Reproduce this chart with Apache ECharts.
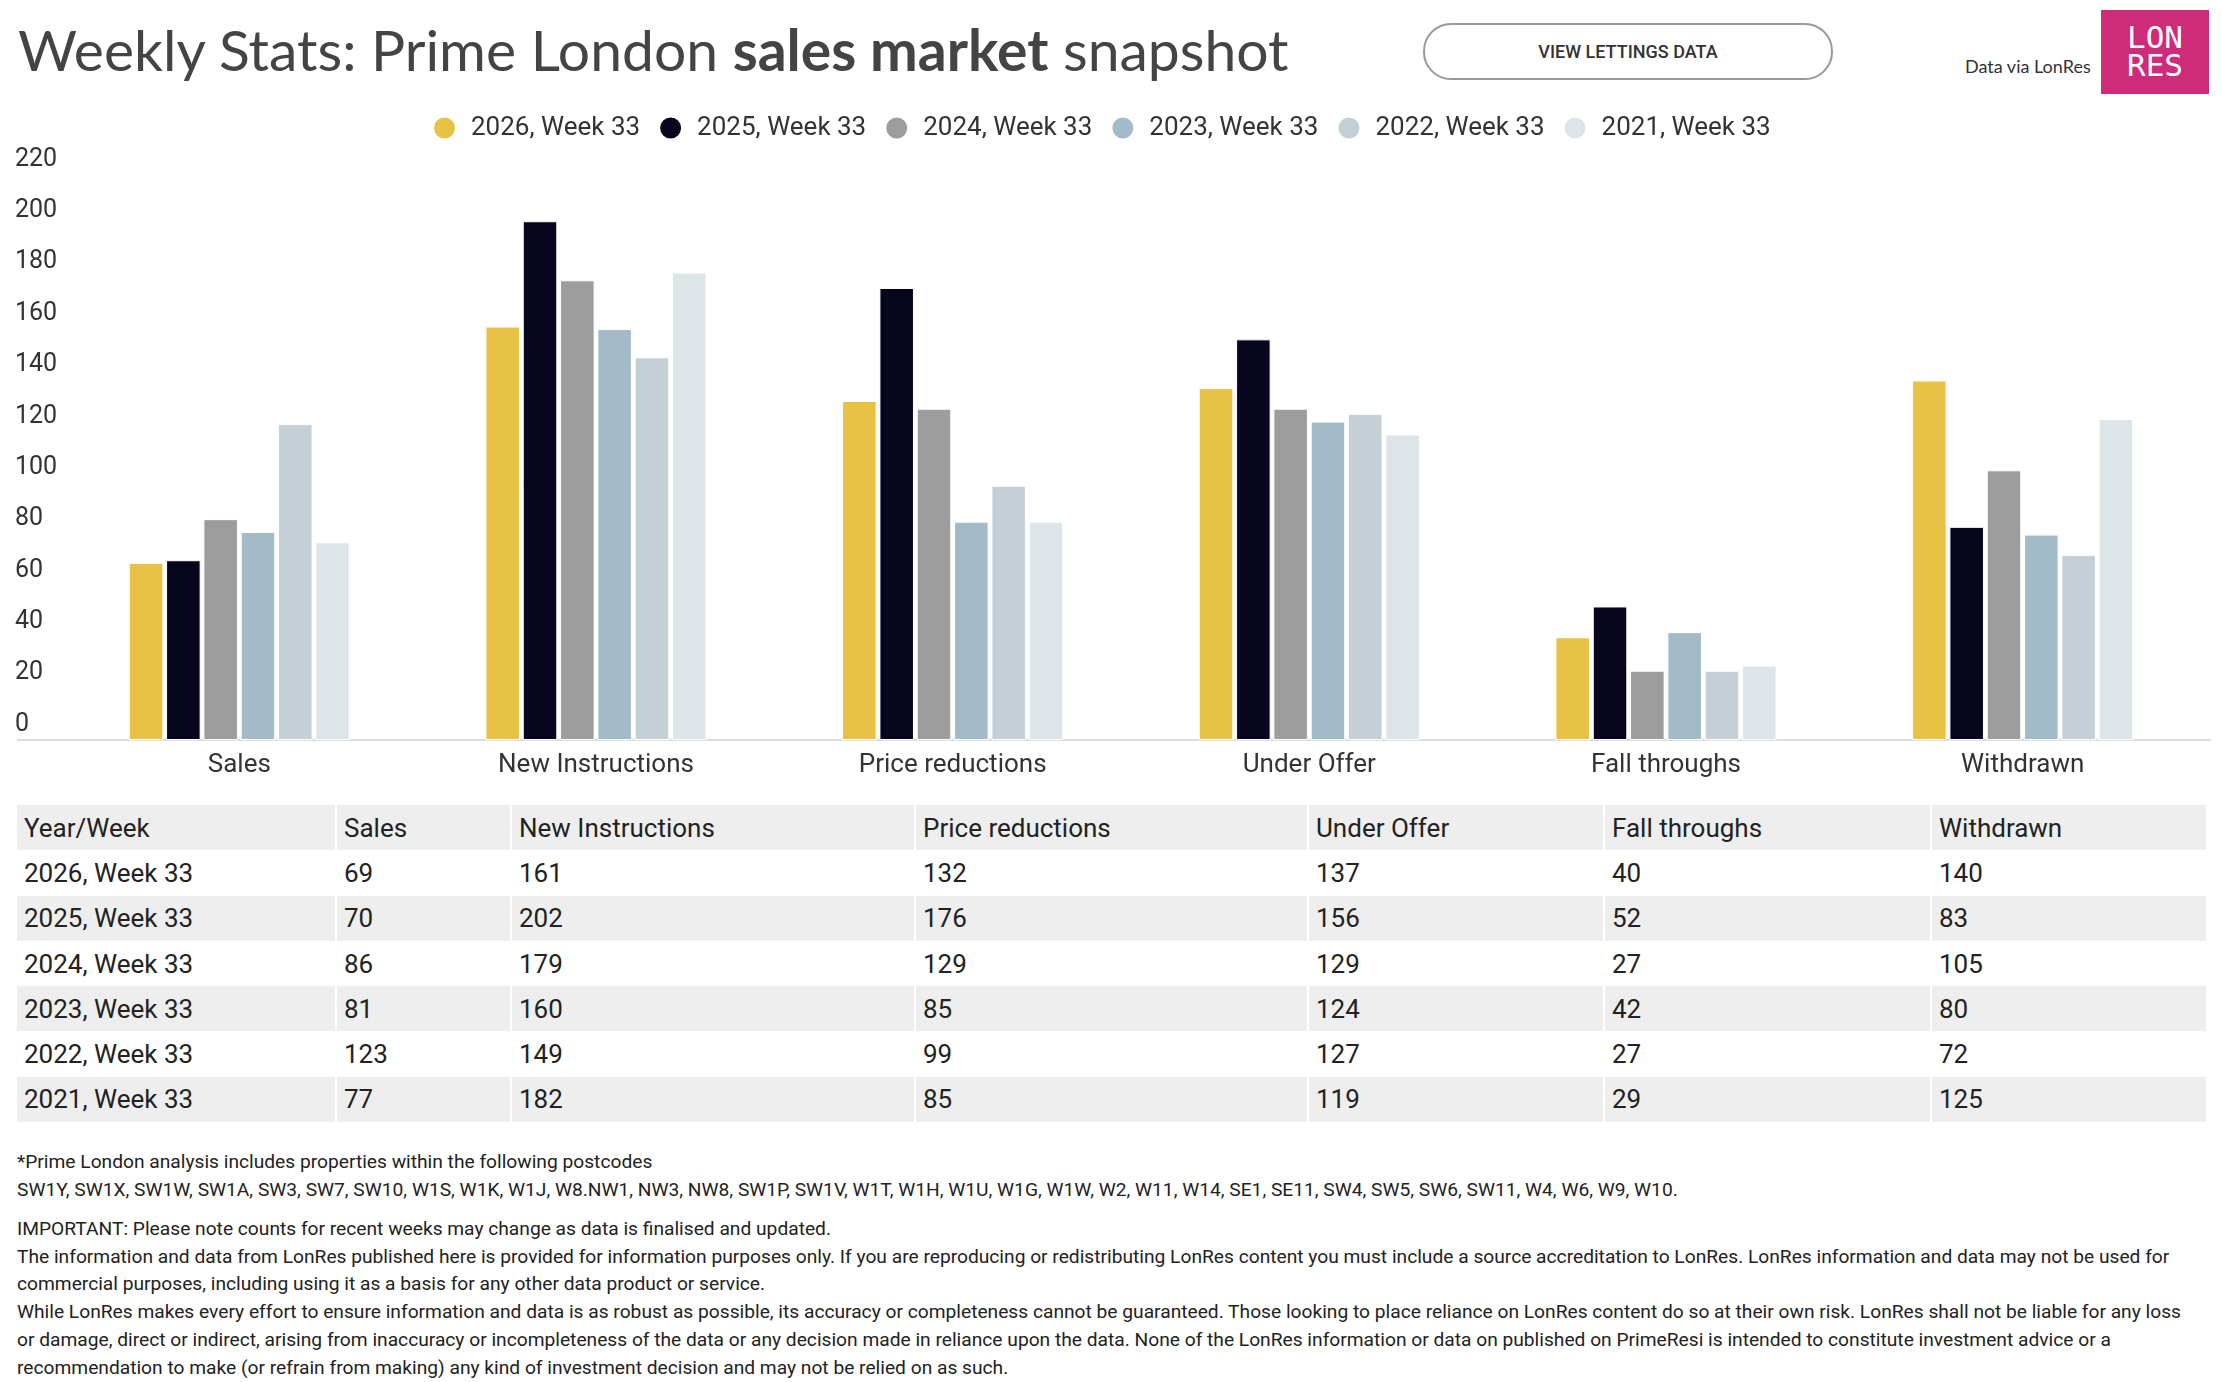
<!DOCTYPE html>
<html>
<head>
<meta charset="utf-8">
<script src="https://cdn.jsdelivr.net/npm/echarts@6/dist/echarts.min.js"></script>
<style>
  html, body { margin: 0; padding: 0; background: #fff; }
  body { width: 2222px; height: 1382px; position: relative; overflow: hidden; font-family: Roboto, "Noto Sans", sans-serif; color: #333; }
  #charts { position: absolute; left: 0; top: 0; width: 2222px; height: 800px; }
  .title { position: absolute; left: 18px; top: 21px; font-family: Lato, sans-serif; font-size: 57px; line-height: 57px; color: #444; white-space: nowrap; }
  .title b { font-weight: 700; }
  .btn { position: absolute; left: 1423px; top: 23px; width: 406px; height: 53px; border: 2.5px solid #999; border-radius: 28px;
         font-size: 18px; font-weight: 500; color: #333; text-align: center; line-height: 53px; }
  .via { position: absolute; left: 1965px; top: 55px; font-family: Lato, sans-serif; font-size: 18px; color: #333; white-space: nowrap; }
  .logo { position: absolute; left: 2101px; top: 10px; width: 108px; height: 84px; background: #cf2b7b; color: #fff;
          font-family: "DejaVu Sans Mono", monospace; font-size: 31px; line-height: 28px; text-align: center; padding-top: 13px; box-sizing: border-box; }
  table { position: absolute; left: 17px; top: 805px; border-collapse: collapse; table-layout: fixed; font-size: 26px; color: #222; }
  td { height: 45.3px; padding: 0 0 0 7px; border-right: 2px solid #fff; white-space: nowrap; }
  tr.g td { background: #eeeeee; }
  .notes { position: absolute; left: 17px; top: 1148px; font-size: 19.2px; color: #222; white-space: nowrap; }
  .notes .p1 { line-height: 28px; }
  .notes .p2 { line-height: 27.7px; margin-top: 11px; }
</style>
</head>
<body>
<div class="title">Weekly Stats: Prime London <b>sales market</b> snapshot</div>
<div class="btn">VIEW LETTINGS DATA</div>
<div class="via">Data via LonRes</div>
<div class="logo">LON<br>RES</div>
<div id="charts"></div>
<table id="tbl"></table>
<div class="notes">
  <div class="p1">*Prime London analysis includes properties within the following postcodes<br>SW1Y, SW1X, SW1W, SW1A, SW3, SW7, SW10, W1S, W1K, W1J, W8.NW1, NW3, NW8, SW1P, SW1V, W1T, W1H, W1U, W1G, W1W, W2, W11, W14, SE1, SE11, SW4, SW5, SW6, SW11, W4, W6, W9, W10.</div>
  <div class="p2">IMPORTANT: Please note counts for recent weeks may change as data is finalised and updated.<br>The information and data from LonRes published here is provided for information purposes only. If you are reproducing or redistributing LonRes content you must include a source accreditation to LonRes. LonRes information and data may not be used for<br>commercial purposes, including using it as a basis for any other data product or service.<br>While LonRes makes every effort to ensure information and data is as robust as possible, its accuracy or completeness cannot be guaranteed. Those looking to place reliance on LonRes content do so at their own risk. LonRes shall not be liable for any loss<br>or damage, direct or indirect, arising from inaccuracy or incompleteness of the data or any decision made in reliance upon the data. None of the LonRes information or data on published on PrimeResi is intended to constitute investment advice or a<br>recommendation to make (or refrain from making) any kind of investment decision and may not be relied on as such.</div>
</div>
<script>
// categories and series
var categories = ['Sales', 'New Instructions', 'Price reductions', 'Under Offer', 'Fall throughs', 'Withdrawn'];
var weeks = ['2026, Week 33', '2025, Week 33', '2024, Week 33', '2023, Week 33', '2022, Week 33', '2021, Week 33'];
var w2026 = [69, 161, 132, 137, 40, 140];
var w2025 = [70, 202, 176, 156, 52, 83];
var w2024 = [86, 179, 129, 129, 27, 105];
var w2023 = [81, 160, 85, 124, 42, 80];
var w2022 = [123, 149, 99, 127, 27, 72];
var w2021 = [77, 182, 85, 119, 29, 125];
var colors = ['#e8c244', '#08061e', '#9d9d9d', '#a3bac9', '#c5cfd6', '#dee5e9'];
var yMin = 0, yMax = 220, yStep = 20;

var allData = [w2026, w2025, w2024, w2023, w2022, w2021];

// table from the same arrays
var colW = [319, 175, 404, 393, 296, 327, 276];
var html = '<colgroup>' + colW.map(function (w) { return '<col style="width:' + w + 'px">'; }).join('') + '</colgroup>';
html += '<tr class="g"><td>Year/Week</td>' + categories.map(function (c) { return '<td>' + c + '</td>'; }).join('') + '</tr>';
weeks.forEach(function (wk, i) {
  html += '<tr' + (i % 2 ? ' class="g"' : '') + '><td>' + wk + '</td>' +
    allData[i].map(function (v) { return '<td>' + v + '</td>'; }).join('') + '</tr>';
});
document.getElementById('tbl').innerHTML = html;

var myChart = echarts.init(document.getElementById('charts'));
var gridLeft = 61, gridRight = 21, gridTop = 175, gridBottom = 60;

var option = {
  animation: false,
  textStyle: { fontFamily: 'Roboto' },
  color: colors,
  legend: {
    top: 110,
    left: 427,
    icon: 'circle',
    itemWidth: 23,
    itemHeight: 23,
    itemGap: 18,
    textStyle: { fontSize: 26, color: '#333', padding: [0, 0, 0, 10] },
    data: weeks
  },
  grid: { left: gridLeft, right: gridRight, top: gridTop, bottom: gridBottom, containLabel: false },
  xAxis: {
    type: 'category',
    data: categories,
    axisLine: { lineStyle: { color: '#dddddd', width: 2 } },
    axisTick: { show: false },
    axisLabel: { fontSize: 26, color: '#333', margin: 12 }
  },
  yAxis: {
    type: 'value',
    min: yMin,
    max: yMax,
    interval: yStep,
    axisLine: { show: false },
    axisTick: { show: false },
    splitLine: { show: false },
    axisLabel: {
      fontSize: 25, color: '#333', align: 'left', margin: 46,
      verticalAlign: 'bottom', padding: [0, 0, 3, 0], showMaxLabel: true
    }
  },
  graphic: [{
    type: 'line',
    shape: { x1: 17, y1: 800 - gridBottom, x2: gridLeft, y2: 800 - gridBottom },
    style: { stroke: '#dddddd', lineWidth: 2 }
  }, {
    type: 'line',
    shape: { x1: 2222 - gridRight, y1: 800 - gridBottom, x2: 2211, y2: 800 - gridBottom },
    style: { stroke: '#dddddd', lineWidth: 2 }
  }],
  series: weeks.map(function (wk, i) {
    return {
      name: wk,
      type: 'bar',
      data: allData[i],
      barCategoryGap: '38%',
      barGap: '8%',
      itemStyle: { borderColor: '#fff', borderWidth: 1 }
    };
  })
};
myChart.setOption(option);
window.addEventListener('resize', function () {
  myChart.resize();
});
</script>
</body>
</html>
